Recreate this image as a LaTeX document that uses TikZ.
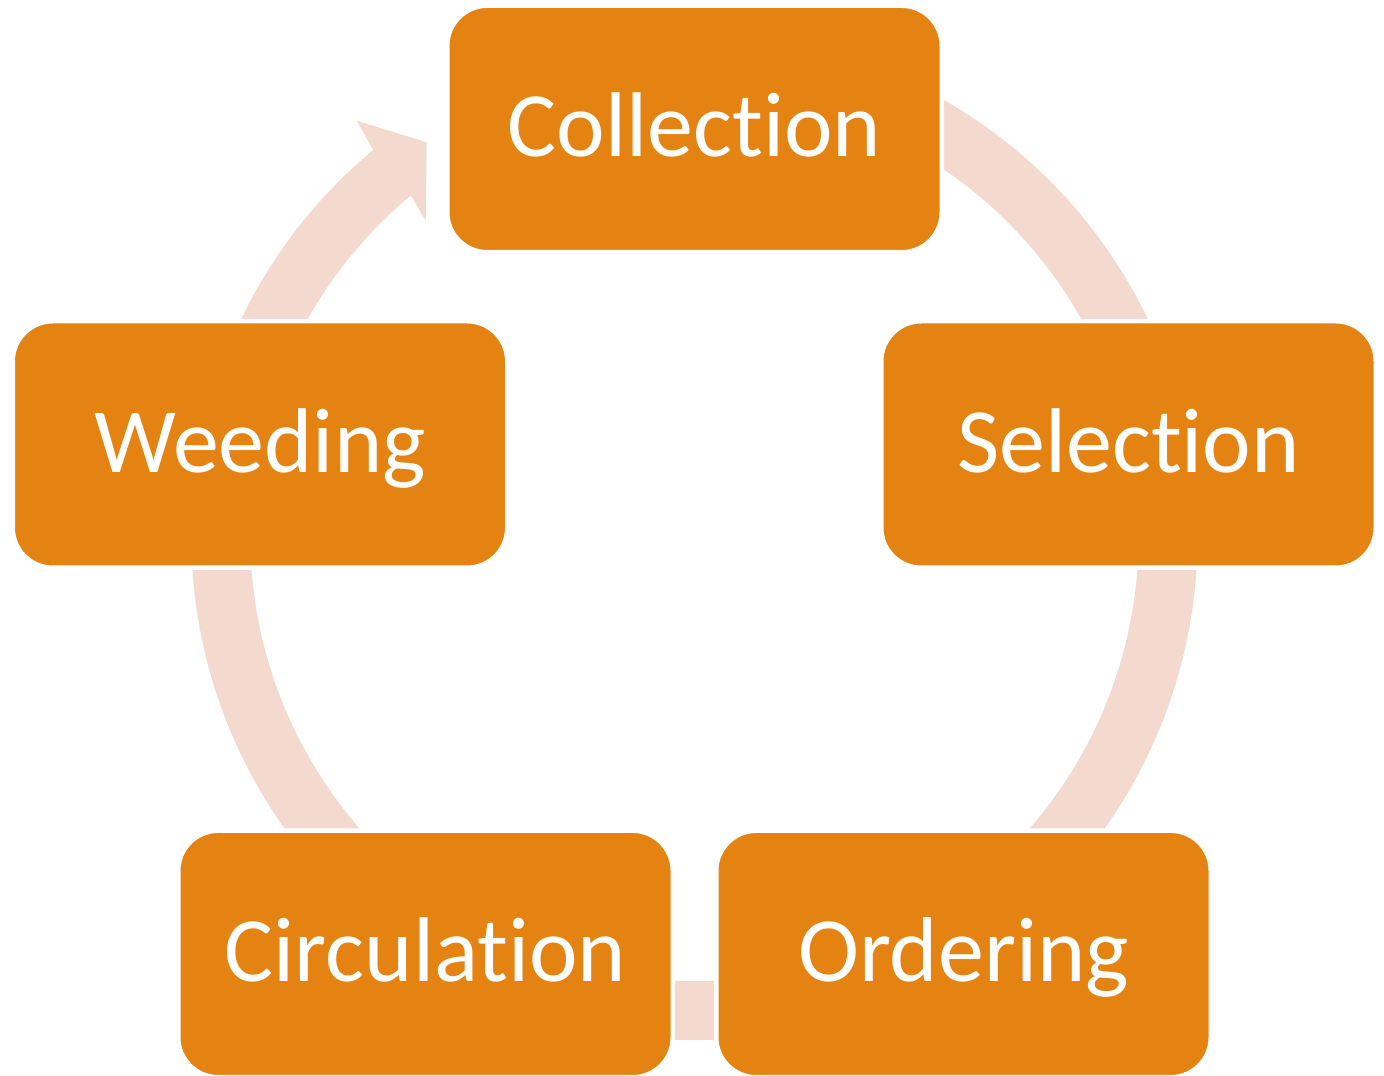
\documentclass[tikz,border=0pt]{standalone}
\usepackage{fontspec}
\setmainfont{Carlito}[Ligatures=NoCommon]
\usetikzlibrary{calc}
\definecolor{stageorange}{RGB}{228,131,18}
\definecolor{ringpink}{RGB}{244,217,206}

\begin{document}
\begin{tikzpicture}[x=1pt, y=1pt,
    stage/.style={rectangle, draw=white, line width=4.5pt, fill=stageorange, rounded corners=40pt,
      minimum width=494.5pt, minimum height=246.5pt, inner sep=0pt, text=white,
      font=\fontsize{92}{110}\selectfont, text height=70pt, text depth=14pt},
    ring/.style={draw=ringpink, line width=59pt}]
  \useasboundingbox (0, 0) rectangle (1384, 1076);
  \coordinate (hub) at (694.5, 539);

  % cycle band and its head
  \draw[ring] ($(hub)+(75:473.5)$) arc[start angle=75, end angle=-231.5, radius=473.5];
  \fill[ringpink] ($(hub)+(129.7:503)$) -- (356.7, 955.3) -- (426.7, 933.7) -- (425.7, 855)
    -- ($(hub)+(129.7:444)$) -- cycle;

  \node[stage] (coll) at (694.5, 947) {Collection};
  \node[stage] (sel) at (1128.5, 631.5) {Selection};
  \node[stage] (ord) at (963.5, 122) {Ordering};
  \node[stage] (circ) at (425.5, 122) {Circulation};
  \node[stage] (weed) at (260, 631.5) {Weeding};
\end{tikzpicture}
\end{document}
